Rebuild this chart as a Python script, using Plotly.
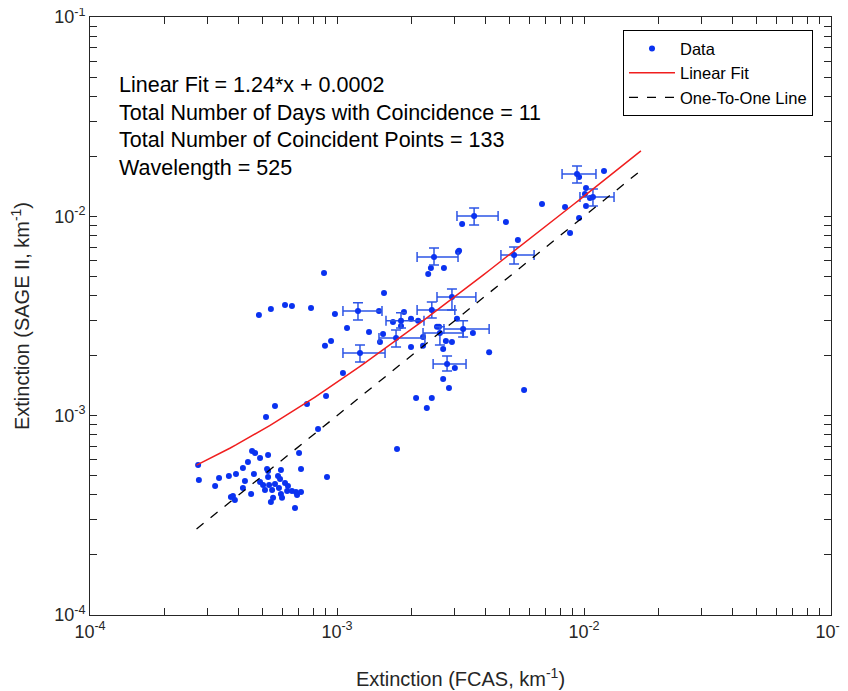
import numpy as np
import plotly.graph_objects as go

# ---- data ----
fcas = [1.057e-3, 5.61e-4, 5.16e-4, 7.56e-4, 9.03e-4, 8.38e-4, 2.74e-4, 2.76e-4, 3.21e-4, 3.33e-4,
        3.65e-4, 3.90e-4, 4.16e-4, 4.36e-4, 4.53e-4, 4.66e-4, 4.88e-4, 5.26e-4, 4.61e-4, 4.24e-4,
        4.16e-4, 4.49e-4, 3.72e-4, 3.79e-4, 3.86e-4, 4.88e-4, 5.02e-4, 5.21e-4, 5.26e-4, 5.26e-4,
        5.31e-4, 5.11e-4, 5.46e-4, 5.61e-4, 5.51e-4, 5.40e-4, 5.77e-4, 5.88e-4, 5.93e-4, 5.82e-4,
        5.93e-4, 5.99e-4, 6.16e-4, 6.33e-4, 6.28e-4, 6.57e-4, 6.82e-4, 6.89e-4, 7.15e-4, 6.76e-4,
        7.02e-4, 7.15e-4, 9.11e-4, 8.86e-4, 4.83e-4, 5.40e-4, 6.16e-4, 6.57e-4, 7.85e-4, 9.81e-4,
        9.46e-4, 8.94e-4, 1.750e-3, 3.09e-3, 2.34e-3, 2.40e-3, 2.71e-3, 1.550e-3, 1.479e-3, 1.867e-3,
        1.685e-3, 1.994e-3, 2.13e-3, 1.816e-3, 1.098e-3, 1.348e-3, 1.536e-3, 1.493e-3, 2.23e-3, 2.54e-3,
        2.59e-3, 3.06e-3, 3.55e-3, 2.76e-3, 2.92e-3, 2.69e-3, 1.994e-3, 2.23e-3, 3.00e-3, 2.69e-3,
        4.13e-3, 2.84e-3, 2.09e-3, 2.42e-3, 2.31e-3, 5.72e-3, 9.55e-3, 1.205e-2, 1.019e-2, 1.057e-2,
        1.009e-2, 1.019e-2, 9.55e-3, 8.78e-3, 8.38e-3, 6.76e-3, 4.83e-3, 3.21e-3, 5.40e-3, 3.12e-3]
sage = [1.637e-3, 1.119e-3, 9.85e-4, 1.145e-3, 1.256e-3, 8.58e-4, 5.66e-4, 4.76e-4, 4.44e-4, 4.87e-4,
        4.98e-4, 5.10e-4, 5.47e-4, 5.86e-4, 6.65e-4, 6.50e-4, 6.13e-4, 6.35e-4, 5.10e-4, 4.70e-4,
        4.34e-4, 4.05e-4, 3.91e-4, 3.95e-4, 3.78e-4, 4.65e-4, 4.49e-4, 5.40e-4, 5.28e-4, 4.92e-4,
        4.49e-4, 4.24e-4, 4.24e-4, 4.54e-4, 3.87e-4, 3.69e-4, 4.98e-4, 4.81e-4, 5.34e-4, 4.34e-4,
        4.05e-4, 3.87e-4, 4.60e-4, 4.44e-4, 4.19e-4, 4.19e-4, 4.14e-4, 4.00e-4, 4.14e-4, 3.44e-4,
        6.50e-4, 5.40e-4, 4.92e-4, 5.20e-3, 3.20e-3, 3.43e-3, 3.59e-3, 3.55e-3, 3.47e-3, 3.24e-3,
        2.37e-3, 2.24e-3, 6.81e-4, 6.63e-3, 5.14e-3, 5.51e-3, 5.51e-3, 4.13e-3, 3.35e-3, 3.31e-3,
        2.95e-3, 3.06e-3, 2.99e-3, 2.82e-3, 2.75e-3, 2.63e-3, 2.57e-3, 2.34e-3, 2.48e-3, 2.79e-3,
        2.79e-3, 3.06e-3, 2.60e-3, 2.37e-3, 2.34e-3, 2.16e-3, 2.21e-3, 2.24e-3, 1.735e-3, 1.528e-3,
        2.08e-3, 1.377e-3, 1.227e-3, 1.227e-3, 1.093e-3, 1.346e-3, 1.576e-2, 1.690e-2, 1.388e-2, 1.237e-2,
        1.295e-2, 1.128e-2, 9.82e-3, 8.25e-3, 1.115e-2, 1.154e-2, 9.37e-3, 9.16e-3, 7.61e-3, 6.71e-3]

# points with error bars: centre, x range, y range
eb_x   = [2.47e-3, 1.216e-3, 2.92e-3, 2.42e-3, 1.816e-3, 1.734e-3, 3.24e-3, 2.61e-3, 1.239e-3, 2.79e-3, 9.37e-3, 1.087e-2, 3.59e-3, 5.21e-3]
eb_y   = [6.26e-3, 3.35e-3, 3.94e-3, 3.39e-3, 2.99e-3, 2.45e-3, 2.72e-3, 2.60e-3, 2.06e-3, 1.817e-3, 1.632e-2, 1.251e-2, 1.005e-2, 6.40e-3]
eb_xlo = [2.11e-3, 1.057e-3, 2.54e-3, 2.11e-3, 1.579e-3, 1.479e-3, 2.71e-3, 2.23e-3, 1.057e-3, 2.45e-3, 8.15e-3, 9.63e-3, 3.06e-3, 4.61e-3]
eb_xhi = [3.09e-3, 1.521e-3, 3.65e-3, 3.00e-3, 2.25e-3, 2.27e-3, 4.13e-3, 3.24e-3, 1.565e-3, 3.33e-3, 1.118e-2, 1.323e-2, 4.49e-3, 6.28e-3]
eb_ylo = [5.70e-3, 3.02e-3, 3.39e-3, 3.09e-3, 2.75e-3, 2.21e-3, 2.48e-3, 2.26e-3, 1.86e-3, 1.676e-3, 1.471e-2, 1.128e-2, 9.06e-3, 5.77e-3]
eb_yhi = [6.94e-3, 3.68e-3, 4.32e-3, 3.72e-3, 3.28e-3, 2.69e-3, 2.99e-3, 2.79e-3, 2.26e-3, 1.994e-3, 1.790e-2, 1.372e-2, 1.102e-2, 7.02e-3]

fit_slope = 1.24
fit_intercept = 0.00023
line_x_range = [2.7e-4, 1.7e-2]

annot_lines = ["Linear Fit = 1.24*x + 0.0002",
               "Total Number of Days with Coincidence = 11",
               "Total Number of Coincident Points = 133",
               "Wavelength = 525"]

decades = [1e-4, 1e-3, 1e-2, 1e-1]
decade_labels = ["10<sup>-4</sup>", "10<sup>-3</sup>", "10<sup>-2</sup>", "10<sup>-1</sup>"]
minor_mult = [2, 3, 4, 5, 6, 7, 8, 9]

tick_vals, tick_text = [], []
for i, d in enumerate(decades):
    tick_vals.append(d); tick_text.append(decade_labels[i])
    if i < len(decades) - 1:
        for k in minor_mult:
            tick_vals.append(k * d); tick_text.append("")

# ---- figure ----
BLUE = "rgb(10,50,240)"
EBLUE = "rgb(45,85,230)"
TXT = "#262626"
FONT = "Liberation Sans, Arial, sans-serif"

fig = go.Figure()

fig.add_trace(go.Scatter(x=fcas, y=sage, mode="markers", name="Data",
                         marker=dict(color=BLUE, size=6)))

ex = np.array(eb_x); ey = np.array(eb_y)
fig.add_trace(go.Scatter(
    x=eb_x, y=eb_y, mode="markers", showlegend=False,
    marker=dict(color=BLUE, size=6),
    error_x=dict(type="data", symmetric=False, array=list(np.array(eb_xhi) - ex),
                 arrayminus=list(ex - np.array(eb_xlo)), color=EBLUE, thickness=1.5, width=5),
    error_y=dict(type="data", symmetric=False, array=list(np.array(eb_yhi) - ey),
                 arrayminus=list(ey - np.array(eb_ylo)), color=EBLUE, thickness=1.5, width=5),
))

lx = np.geomspace(line_x_range[0], line_x_range[1], 80)
fig.add_trace(go.Scatter(x=lx, y=fit_slope * lx + fit_intercept, mode="lines", name="Linear Fit",
                         line=dict(color="rgb(240,30,30)", width=1.5)))
fig.add_trace(go.Scatter(x=line_x_range, y=line_x_range, mode="lines", name="One-To-One Line",
                         line=dict(color="black", width=1.3, dash="dash")))

axis_common = dict(type="log", showgrid=False, zeroline=False, showline=True, linecolor=TXT,
                   linewidth=1, mirror="ticks", ticks="inside", ticklen=7, tickcolor=TXT,
                   tickvals=tick_vals, ticktext=tick_text, automargin=False,
                   ticklabeloverflow="allow",
                   tickfont=dict(family=FONT, size=18, color=TXT))

fig.update_xaxes(range=[-4, -1], title=dict(text="Extinction (FCAS, km<sup>-1</sup>)",
                 font=dict(family=FONT, size=20, color=TXT), standoff=31), **axis_common)
fig.update_yaxes(range=[-4, -1], title=dict(text="Extinction (SAGE II, km<sup>-1</sup>)",
                 font=dict(family=FONT, size=20, color=TXT), standoff=20), **axis_common)

ys = [0.8863, 0.8395, 0.7943, 0.7475]
for t, yy in zip(annot_lines, ys):
    fig.add_annotation(text=t, x=0.0364, y=yy, xref="paper", yref="paper", showarrow=False,
                       xanchor="left", yanchor="middle",
                       font=dict(family=FONT, size=21.5, color="black"))

fig.update_layout(
    width=848, height=691,
    margin=dict(l=82, r=25, t=9, b=84),
    plot_bgcolor="white", paper_bgcolor="white",
    legend=dict(x=0.9757, y=0.978, xanchor="right", yanchor="top",
                bgcolor="white", bordercolor="black", borderwidth=1,
                font=dict(family=FONT, size=16.5, color="black"),
                itemwidth=46, tracegroupgap=0),
    showlegend=True,
)

fig.write_html("out.html")
